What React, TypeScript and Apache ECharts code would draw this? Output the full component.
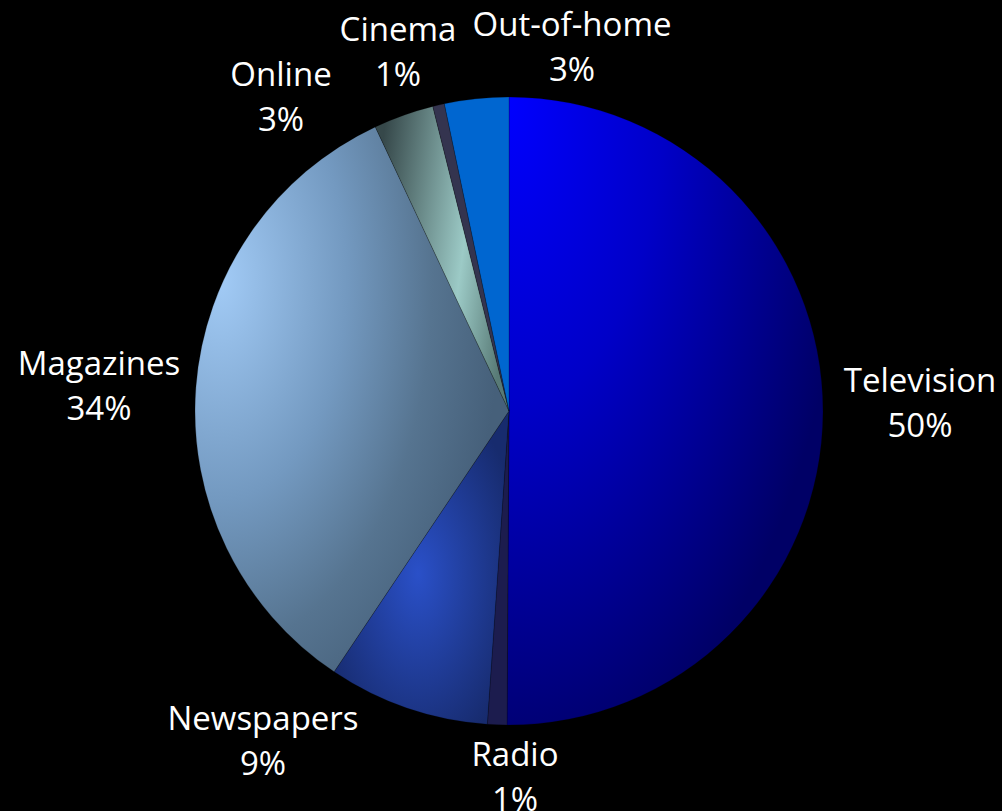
import React, { useEffect, useRef } from "react";
import * as echarts from "echarts";

// ---- data ----
const categories = ["Television", "Radio", "Newspapers", "Magazines", "Online", "Cinema", "Out-of-home"];
const shares = [50.1, 1.0, 8.3, 33.6, 3.1, 0.6, 3.3];
const labelPercents = [50, 1, 9, 34, 3, 1, 3];

// ---- styles / layout ----
const sliceColors: any[] = [
  new echarts.graphic.RadialGradient(0, 0, 1.1, [
    { offset: 0, color: "#0000ff" },
    { offset: 0.45, color: "#0000c8" },
    { offset: 1, color: "#000066" },
  ]),
  "#1c1c4e",
  new echarts.graphic.RadialGradient(0.48, 0.52, 0.6, [
    { offset: 0, color: "#2a50c8" },
    { offset: 1, color: "#172b6e" },
  ]),
  new echarts.graphic.RadialGradient(0.08, 0.28, 0.9, [
    { offset: 0, color: "#a2cbf6" },
    { offset: 0.45, color: "#7399c0" },
    { offset: 0.75, color: "#567490" },
    { offset: 1, color: "#46607a" },
  ]),
  new echarts.graphic.LinearGradient(0, 0.3, 1, 0.6, [
    { offset: 0, color: "#36484a" },
    { offset: 0.65, color: "#9ccac6" },
    { offset: 1, color: "#587a76" },
  ]),
  "#34344f",
  "#0066d0",
];

const labelAnchors: Record<string, [number, number]> = {
  Television: [920, 402],
  Radio: [515, 776],
  Newspapers: [263, 740],
  Magazines: [99, 385],
  Online: [281, 96],
  Cinema: [398, 51],
  "Out-of-home": [572, 46],
};

export default function App() {
  const ref = useRef<HTMLDivElement>(null);
  useEffect(() => {
    document.body.style.margin = "0";
    document.body.style.background = "#000";
    const chart = echarts.init(ref.current!, null, { renderer: "svg" });
    chart.setOption({
      animation: false,
      backgroundColor: "#000000",
      series: [
        {
          type: "pie",
          center: [509, 411],
          radius: 314,
          startAngle: 90,
          clockwise: true,
          avoidLabelOverlap: false,
          itemStyle: { borderColor: "rgba(0,0,0,0.35)", borderWidth: 0.6 },
          label: {
            show: true,
            position: "outside",
            color: "#ffffff",
            fontFamily: "Open Sans",
            fontSize: 33,
            lineHeight: 45,
            align: "center",
            formatter: (p: any) => `${p.name}\n${labelPercents[p.dataIndex]}%`,
          },
          labelLine: { show: false },
          labelLayout: (p: any) => {
            const a = labelAnchors[categories[p.dataIndex]];
            return { x: a[0], y: a[1], align: "center", verticalAlign: "middle" };
          },
          emphasis: { disabled: true },
          data: categories.map((c, i) => ({
            name: c,
            value: shares[i],
            itemStyle: { color: sliceColors[i] },
          })),
        },
      ],
    });
    return () => chart.dispose();
  }, []);
  return <div ref={ref} style={{ width: 1002, height: 811, background: "#000" }} />;
}
